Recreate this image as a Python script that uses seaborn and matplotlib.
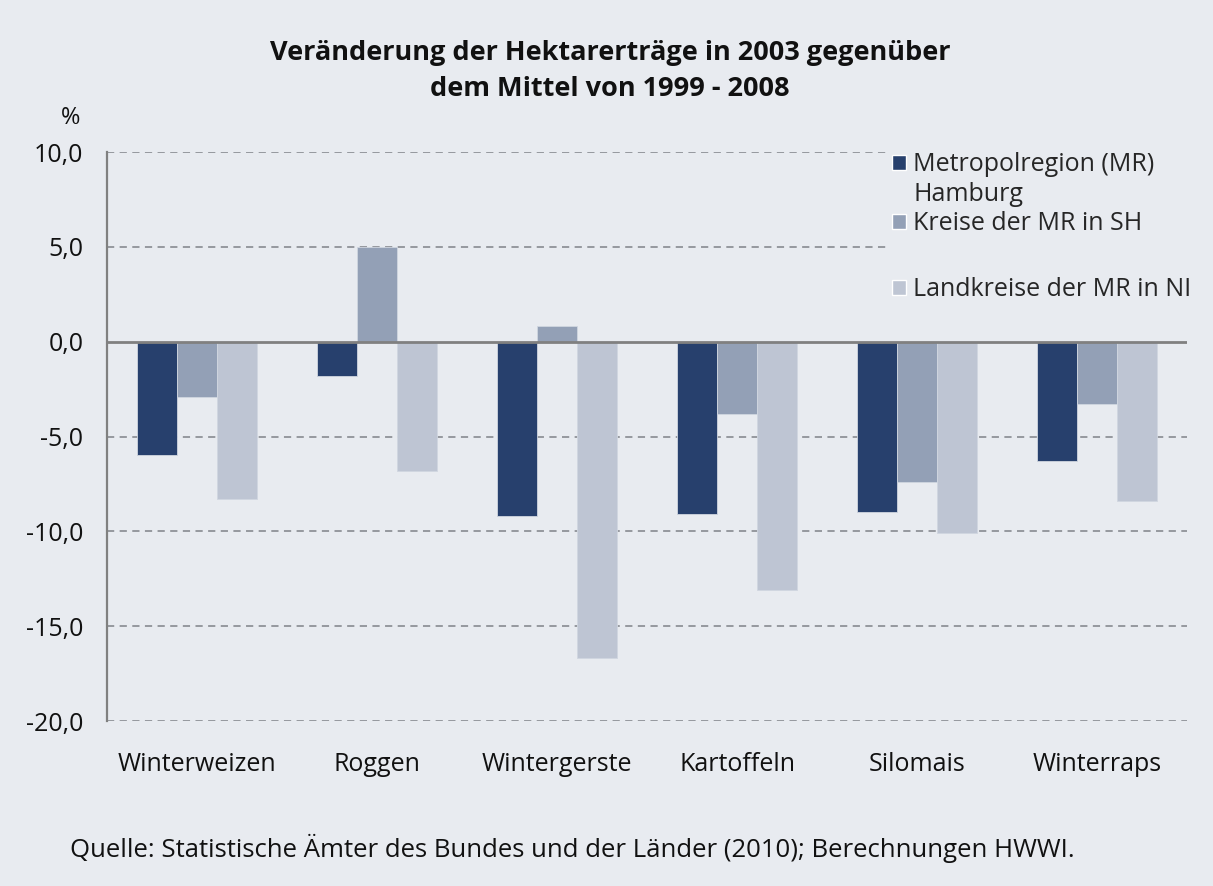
import pandas as pd
import numpy as np
import seaborn as sns
import matplotlib.pyplot as plt
from matplotlib.patches import Patch

# Daten
kulturen = ['Winterweizen', 'Roggen', 'Wintergerste', 'Kartoffeln', 'Silomais', 'Winterraps']
regionen = ['Metropolregion (MR)\nHamburg', 'Kreise der MR in SH', 'Landkreise der MR in NI']
werte_mr = [-6.0, -1.8, -9.2, -9.1, -9.0, -6.3]
werte_sh = [-2.9, 5.0, 0.8, -3.8, -7.4, -3.3]
werte_ni = [-8.3, -6.8, -16.7, -13.1, -10.1, -8.4]
farben = ['#27406d', '#93a0b6', '#bec5d3']
y_ticks = [-20, -15, -10, -5, 0, 5, 10]

df = pd.DataFrame({
    'Kultur': kulturen * 3,
    'Region': [regionen[0]] * 6 + [regionen[1]] * 6 + [regionen[2]] * 6,
    'Wert': werte_mr + werte_sh + werte_ni,
})

hg = '#e8ebf0'
sns.set_theme(style='white')
plt.rcParams['font.family'] = ['Open Sans', 'DejaVu Sans']

fig = plt.figure(figsize=(12.13, 8.86), dpi=100, facecolor=hg)
ax = fig.add_axes([107 / 1213, 1 - 721 / 886, 1080 / 1213, 569 / 886])
ax.set_facecolor(hg)

sns.barplot(data=df, x='Kultur', y='Wert', hue='Region', hue_order=regionen,
            palette=farben, width=2 / 3, saturation=1, legend=False,
            edgecolor='#d0d6e0', linewidth=0.6, ax=ax, zorder=3)

ax.set_ylim(-20, 10)
ax.set_xlim(-0.5, 5.5)
ax.set_yticks(y_ticks)
ax.set_yticklabels([f'{v:.1f}'.replace('.', ',') for v in y_ticks], fontsize=18)
ax.tick_params(axis='x', labelsize=18, pad=22, length=0, labelcolor='#111111')
ax.tick_params(axis='y', pad=17, length=0, labelcolor='#111111')
ax.set_xlabel('')
ax.set_ylabel('')

# Gitterlinien
for v in y_ticks:
    if v != 0:
        ax.axhline(v, color='#8f9298', lw=1.3, ls=(0, (4, 3)), zorder=1)
ax.axhline(0, color='#808080', lw=2, zorder=4)

for s in ['top', 'right', 'bottom']:
    ax.spines[s].set_visible(False)
ax.spines['left'].set_color('#808080')
ax.spines['left'].set_linewidth(1.6)

# Legende
leer = Patch(facecolor='none', edgecolor='none')
handles = [Patch(facecolor=farben[0]), leer, Patch(facecolor=farben[1]), leer,
           Patch(facecolor=farben[2])]
labels = ['Metropolregion (MR)', 'Hamburg', 'Kreise der MR in SH', ' ', 'Landkreise der MR in NI']
leg = ax.legend(handles, labels, loc='upper left', bbox_to_anchor=(0.722, 1.008),
                frameon=True, facecolor=hg, edgecolor='none', framealpha=1,
                fontsize=18, handlelength=0.55, handleheight=0.55,
                handletextpad=0.3, labelspacing=0.17, borderaxespad=0,
                borderpad=0.2)
leg.get_texts()[3].set_fontsize(24)
leg.set_zorder(5)

fig.text(0.503, 0.955, 'Veränderung der Hektarerträge in 2003 gegenüber\ndem Mittel von 1999 - 2008',
         ha='center', va='top', fontsize=19.5, fontweight='bold', linespacing=1.5,
         color='#111111')
fig.text(80 / 1213, 1 - 118 / 886, '%', ha='right', va='center', fontsize=17, color='#111111')
fig.text(70 / 1213, 1 - 848 / 886,
         'Quelle: Statistische Ämter des Bundes und der Länder (2010); Berechnungen HWWI.',
         ha='left', va='center', fontsize=18.5, color='#111111')

fig.savefig('out.png', dpi=100, facecolor=hg)
